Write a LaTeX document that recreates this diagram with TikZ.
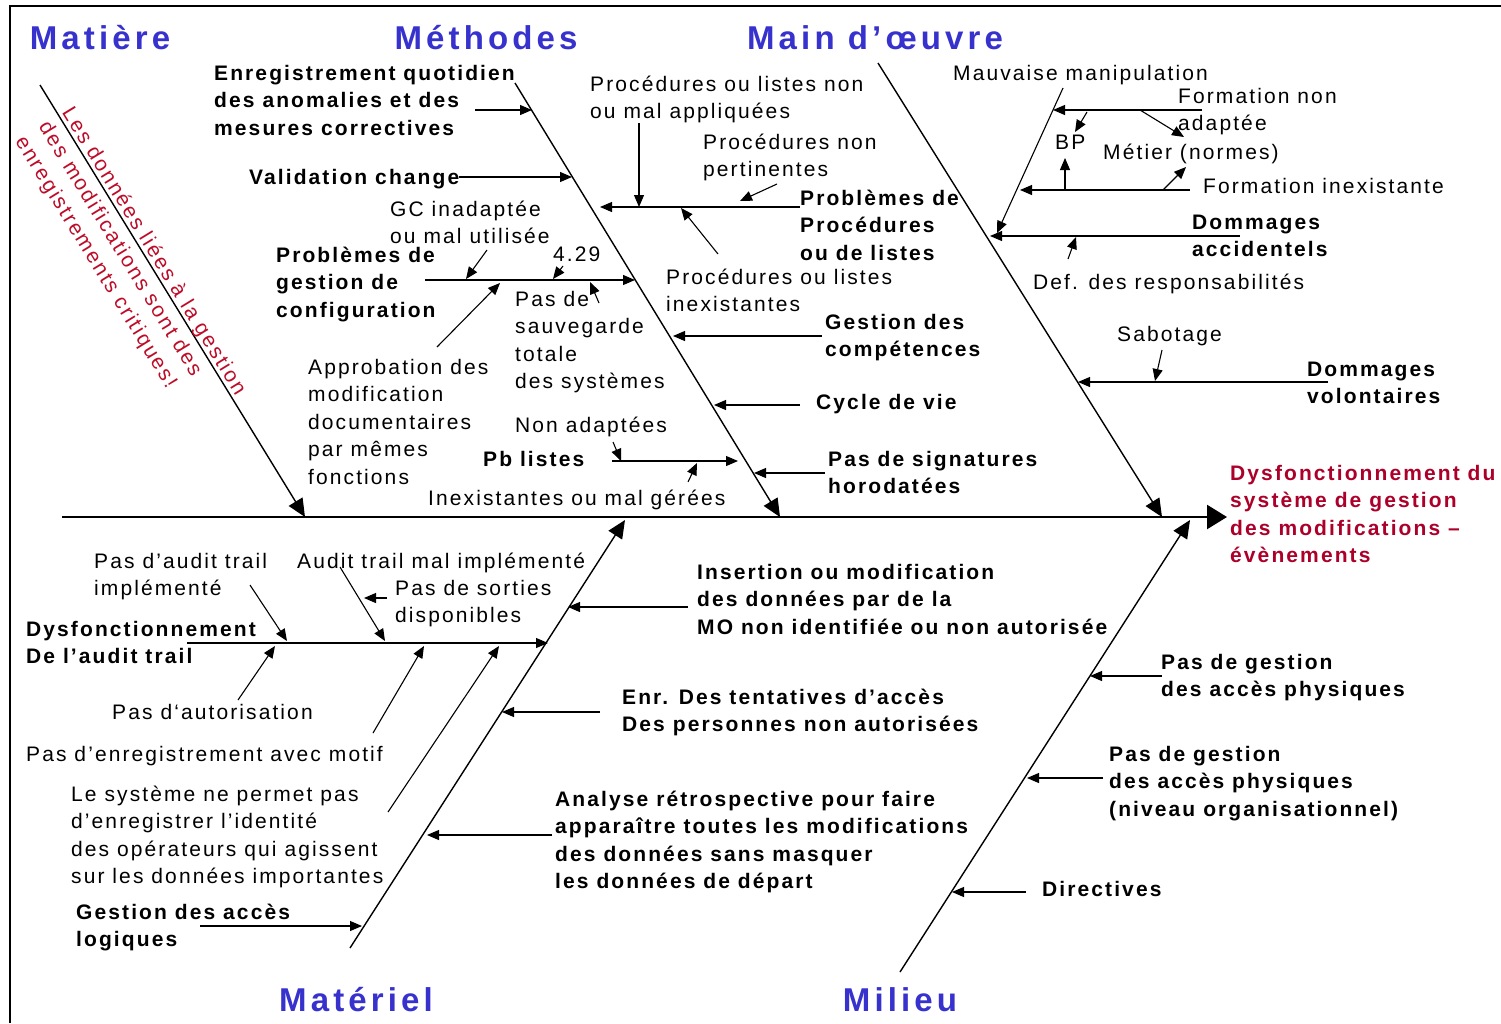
\documentclass[tikz,border=0pt]{standalone}
\usepackage{fontspec}
\setmainfont{Liberation Sans}[LetterSpace=10]
\newfontfamily\ttlfont{Liberation Sans}[LetterSpace=12.5]
\usetikzlibrary{arrows.meta}
\definecolor{titleblue}{RGB}{55,50,205}
\definecolor{effred}{RGB}{172,0,42}
\definecolor{notered}{RGB}{190,12,40}
\begin{document}
\begin{tikzpicture}[x=1pt,y=-1pt,
  lbl/.style={anchor=north west,inner sep=0pt,align=left,font=\fontsize{21}{27.5}\selectfont},
  blbl/.style={lbl,font=\bfseries\fontsize{21}{27.5}\selectfont},
  ttl/.style={inner sep=0pt,text=titleblue,font=\ttlfont\bfseries\fontsize{33}{40}\selectfont},
  arr/.style={-{Triangle[length=12pt,width=10pt]},line width=1.1pt},
  bone/.style={-{Triangle[length=18pt,width=16pt]},line width=1.4pt},
  spine/.style={-{Triangle[length=20pt,width=24pt]},line width=2.4pt}]
\useasboundingbox (0,0) rectangle (1501,1023);
\fill[white] (0,0) rectangle (1501,1023);
\draw[line width=2.4pt] (10,1023) -- (10,6) -- (1501,6);

% titles
\node[ttl] (tMat) at (100,38) {Matière};
\node[ttl] (tMeth) at (486,38) {Méthodes};
\node[ttl] (tMain) at (875,38) {Main d’œuvre};
\node[ttl] (tMatl) at (356,1000) {Matériel};
\node[ttl] (tMil) at (900,1000) {Milieu};

% bones
\coordinate (s0) at (62,517); \coordinate (s1) at (1227,517);
\coordinate (b1a) at (40,85);  \coordinate (b1b) at (305,517);
\coordinate (b2a) at (515,83); \coordinate (b2b) at (780,517);
\coordinate (b3a) at (878,63); \coordinate (b3b) at (1162,517);
\coordinate (b4a) at (350,948); \coordinate (b4b) at (625,520);
\coordinate (b5a) at (900,972); \coordinate (b5b) at (1190,520);
\draw[spine] (s0) -- (s1);
\draw[bone] (b1a) -- (b1b);
\draw[bone] (b2a) -- (b2b);
\draw[bone] (b3a) -- (b3b);
\draw[bone] (b4a) -- (b4b);
\draw[bone] (b5a) -- (b5b);

% effect
\node[blbl,text=effred] (eff) at (1230,461) {\strut Dysfonctionnement du\\système de gestion\\des modifications –\\évènements};

% Matiere note
\node[inner sep=0pt,align=left,rotate=-58.5,text=notered,font=\fontsize{21}{27.5}\selectfont] (note) at (130,266)
  {Les données liées à la gestion\\des modifications sont des\\enregistrements critiques!};

% ---- Methodes ----
\node[blbl] (m1) at (214,61) {\strut Enregistrement quotidien\\des anomalies et des\\mesures correctives};
\coordinate (m1a) at (475,110); \coordinate (m1b) at (532,110);
\draw[arr] (m1a) -- (m1b);
\node[blbl] (m2) at (249,165) {\strut Validation change};
\coordinate (m2b) at (572,177);
\draw[arr] (m2.east |- m2b) -- (m2b);
\node[lbl] (m3) at (390,197) {\strut GC inadaptée\\ou mal utilisée};
\node[blbl] (m4) at (276,243) {\strut Problèmes de\\gestion de\\configuration};
\coordinate (m4a) at (425,280); \coordinate (m4b) at (635,280);
\draw[arr] (m4a) -- (m4b);
\coordinate (m3a) at (487,250); \coordinate (m3b) at (466,279);
\draw[arr] (m3a) -- (m3b);
\node[lbl] (m5) at (553,242) {\strut 4.29};
\coordinate (m5a) at (563,266); \coordinate (m5b) at (553,279);
\draw[arr] (m5a) -- (m5b);
\node[lbl] (m6) at (515,287) {\strut Pas de\\sauvegarde\\totale\\des systèmes};
\coordinate (m6a) at (599,303); \coordinate (m6b) at (590,282);
\draw[arr] (m6a) -- (m6b);
\node[lbl] (m7) at (308,355) {\strut Approbation des\\modification\\documentaires\\par mêmes\\fonctions};
\coordinate (m7a) at (437,347); \coordinate (m7b) at (500,283);
\draw[arr] (m7a) -- (m7b);
\node[lbl] (m8) at (590,72) {\strut Procédures ou listes non\\ou mal appliquées};
\node[lbl] (m9) at (703,130) {\strut Procédures non\\pertinentes};
\node[blbl] (m10) at (800,186) {\strut Problèmes de\\Procédures\\ou de listes};
\coordinate (m10a) at (800,207); \coordinate (m10b) at (600,207);
\draw[arr] (m10a) -- (m10b);
\coordinate (m8a) at (639,123); \coordinate (m8b) at (639,207);
\draw[arr] (m8a) -- (m8b);
\coordinate (m9a) at (777,184); \coordinate (m9b) at (740,201);
\draw[arr] (m9a) -- (m9b);
\node[lbl] (m11) at (666,265) {\strut Procédures ou listes\\inexistantes};
\coordinate (m11a) at (718,254); \coordinate (m11b) at (681,208);
\draw[arr] (m11a) -- (m11b);
\node[blbl] (m12) at (825,310) {\strut Gestion des\\compétences};
\coordinate (m12a) at (822,336); \coordinate (m12b) at (673,336);
\draw[arr] (m12a) -- (m12b);
\node[blbl] (m13) at (816,390) {\strut Cycle de vie};
\coordinate (m13a) at (800,405); \coordinate (m13b) at (714,405);
\draw[arr] (m13a) -- (m13b);
\node[blbl] (m16) at (828,447) {\strut Pas de signatures\\horodatées};
\coordinate (m16a) at (825,473); \coordinate (m16b) at (754,473);
\draw[arr] (m16a) -- (m16b);
\node[lbl] (m14) at (515,413) {\strut Non adaptées};
\node[blbl] (m15) at (483,447) {\strut Pb listes};
\coordinate (m15a) at (612,461); \coordinate (m15b) at (738,461);
\draw[arr] (m15a) -- (m15b);
\coordinate (m14a) at (613,442); \coordinate (m14b) at (621,461);
\draw[arr] (m14a) -- (m14b);
\node[lbl] (m17) at (428,486) {\strut Inexistantes ou mal gérées};
\coordinate (m17a) at (688,482); \coordinate (m17b) at (697,463);
\draw[arr] (m17a) -- (m17b);

% ---- Main d'oeuvre ----
\node[lbl] (o1) at (953,61) {\strut Mauvaise manipulation};
\coordinate (o1a) at (1063,88); \coordinate (o1b) at (997,233);
\draw[arr] (o1a) -- (o1b);
\node[lbl] (o2) at (1178,84) {\strut Formation non\\adaptée};
\coordinate (o2a) at (1202,110); \coordinate (o2b) at (1053,110);
\draw[arr] (o2a) -- (o2b);
\node[lbl] (o3) at (1055,130) {\strut BP};
\coordinate (o3a) at (1087,112); \coordinate (o3b) at (1075,132);
\draw[arr] (o3a) -- (o3b);
\node[lbl] (o4) at (1103,140) {\strut Métier (normes)};
\coordinate (o4a) at (1140,110); \coordinate (o4b) at (1184,137);
\draw[arr] (o4a) -- (o4b);
\node[lbl] (o5) at (1203,174) {\strut Formation inexistante};
\coordinate (o5a) at (1190,190); \coordinate (o5b) at (1020,190);
\draw[arr] (o5a) -- (o5b);
\coordinate (o5c) at (1065,190); \coordinate (o5d) at (1065,158);
\draw[arr] (o5c) -- (o5d);
\coordinate (o5e) at (1163,190); \coordinate (o5f) at (1186,167);
\draw[arr] (o5e) -- (o5f);
\node[blbl] (o6) at (1192,210) {\strut Dommages\\accidentels};
\coordinate (o6a) at (1240,236); \coordinate (o6b) at (990,236);
\draw[arr] (o6a) -- (o6b);
\node[lbl] (o7) at (1033,270) {\strut Def. des responsabilités};
\coordinate (o7a) at (1068,259); \coordinate (o7b) at (1076,237);
\draw[arr] (o7a) -- (o7b);
\node[lbl] (o8) at (1117,322) {\strut Sabotage};
\coordinate (o8a) at (1162,350); \coordinate (o8b) at (1155,381);
\draw[arr] (o8a) -- (o8b);
\node[blbl] (o9) at (1307,357) {\strut Dommages\\volontaires};
\coordinate (o9a) at (1328,382); \coordinate (o9b) at (1078,382);
\draw[arr] (o9a) -- (o9b);

% ---- Materiel ----
\node[lbl] (t1) at (94,549) {\strut Pas d’audit trail\\implémenté};
\node[lbl] (t2) at (297,549) {\strut Audit trail mal implémenté};
\node[lbl] (t3) at (395,576) {\strut Pas de sorties\\disponibles};
\node[blbl] (t4) at (26,617) {\strut Dysfonctionnement\\De l’audit trail};
\coordinate (t4a) at (187,643); \coordinate (t4b) at (548,643);
\draw[arr] (t4a) -- (t4b);
\coordinate (t1a) at (250,585); \coordinate (t1b) at (287,641);
\draw[arr] (t1a) -- (t1b);
\coordinate (t2a) at (340,567); \coordinate (t2b) at (385,641);
\draw[arr] (t2a) -- (t2b);
\coordinate (t3a) at (387,598); \coordinate (t3b) at (364,598);
\draw[arr] (t3a) -- (t3b);
\node[lbl] (t5) at (112,700) {\strut Pas d‘autorisation};
\coordinate (t5a) at (238,700); \coordinate (t5b) at (275,646);
\draw[arr] (t5a) -- (t5b);
\node[lbl] (t6) at (26,742) {\strut Pas d’enregistrement avec motif};
\coordinate (t6a) at (373,733); \coordinate (t6b) at (424,646);
\draw[arr] (t6a) -- (t6b);
\node[lbl] (t7) at (71,782) {\strut Le système ne permet pas\\d’enregistrer l’identité\\des opérateurs qui agissent\\sur les données importantes};
\coordinate (t7a) at (388,812); \coordinate (t7b) at (499,646);
\draw[arr] (t7a) -- (t7b);
\node[blbl] (t8) at (76,900) {\strut Gestion des accès\\logiques};
\coordinate (t8a) at (200,926); \coordinate (t8b) at (362,926);
\draw[arr] (t8a) -- (t8b);
\node[blbl] (t9) at (697,560) {\strut Insertion ou modification\\des données par de la\\MO non identifiée ou non autorisée};
\coordinate (t9a) at (688,607); \coordinate (t9b) at (568,607);
\draw[arr] (t9a) -- (t9b);
\node[blbl] (t10) at (622,685) {\strut Enr. Des tentatives d’accès\\Des personnes non autorisées};
\coordinate (t10a) at (600,712); \coordinate (t10b) at (502,712);
\draw[arr] (t10a) -- (t10b);
\node[blbl] (t11) at (555,787) {\strut Analyse rétrospective pour faire\\apparaître toutes les modifications\\des données sans masquer\\les données de départ};
\coordinate (t11a) at (552,835); \coordinate (t11b) at (427,835);
\draw[arr] (t11a) -- (t11b);

% ---- Milieu ----
\node[blbl] (u1) at (1161,650) {\strut Pas de gestion\\des accès physiques};
\coordinate (u1a) at (1162,676); \coordinate (u1b) at (1090,676);
\draw[arr] (u1a) -- (u1b);
\node[blbl] (u2) at (1109,742) {\strut Pas de gestion\\des accès physiques\\(niveau organisationnel)};
\coordinate (u2a) at (1103,778); \coordinate (u2b) at (1027,778);
\draw[arr] (u2a) -- (u2b);
\node[blbl] (u3) at (1042,877) {\strut Directives};
\coordinate (u3a) at (1026,892); \coordinate (u3b) at (952,892);
\draw[arr] (u3a) -- (u3b);
\end{tikzpicture}
\end{document}
